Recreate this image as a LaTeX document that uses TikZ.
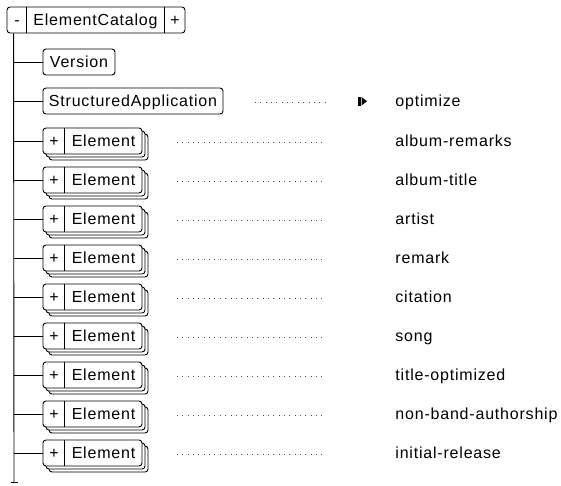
\documentclass[tikz,border=0pt]{standalone}
\usepackage{fontspec}
\newfontfamily\lblfamily{Liberation Sans}[LetterSpace=5]
\newcommand{\lblfont}{\lblfamily\fontsize{16pt}{18pt}\selectfont}
\usetikzlibrary{shadows}
\begin{document}
\begin{tikzpicture}[x=1pt,y=-1pt,line width=0.9pt,
  boxc/.style={draw, rounded corners=3pt, fill=white, inner sep=0pt,
    minimum height=26pt, font=\lblfont, text height=11.5pt, text depth=0pt},
  elembox/.style={boxc, minimum width=99pt,
    double copy shadow={shadow xshift=3pt, shadow yshift=-3pt}},
  btxt/.style={font=\lblfont, anchor=base, inner sep=0pt},
  lbl/.style={font=\lblfont, anchor=base west, inner sep=0pt},
  dots/.style={draw=black!70, line width=1pt, dash pattern=on 1pt off 4.35pt},
]
\useasboundingbox (0,0) rectangle (561,485);

% root
\node[boxc, minimum width=178pt] (ec) at (96,20) {};
\draw ([xshift=20pt]ec.north west) -- ([xshift=20pt]ec.south west);
\draw ([xshift=-21pt]ec.north east) -- ([xshift=-21pt]ec.south east);
\node[btxt] (ecminus) at (17,25.75) {-};
\node[btxt] (ecname) at (95.5,25.75) {ElementCatalog};
\node[btxt] (ecplus) at (175,25.75) {+};

% trunk
\coordinate (trbot) at (14,482);
\draw ([xshift=7pt]ec.south west) -- (trbot);
\draw ([xshift=-3pt]trbot) -- ([xshift=4pt]trbot);

% Version
\node[boxc, minimum width=72pt] (ver) at (79,62) {Version};
\coordinate (tkv) at (14,62);
\draw (tkv) -- (ver.west);

% StructuredApplication
\node[boxc, minimum width=180pt] (sa) at (133,101) {StructuredApplication};
\coordinate (tks) at (14,101);
\draw (tks) -- (sa.west);
\coordinate (sda) at (255,102);
\coordinate (sdb) at (325,102);
\draw[dots] (sda) -- (sdb);
\fill (358,97) rectangle (360.5,105.5);
\fill (361.5,97) -- (367,101.25) -- (361.5,105.5) -- cycle;
\node[lbl] (lbs) at (395,106.5) {optimize};

% Element rows
\foreach \i/\lab in {0/album-remarks,1/album-title,2/artist,3/remark,4/citation,
  5/song,6/title-optimized,7/non-band-authorship,8/initial-release}{
  \pgfmathsetmacro\yy{141+39*\i}
  \pgfmathsetmacro\yb{\yy+5.75}
  \pgfmathsetmacro\yl{\yy+5.5}
  \pgfmathsetmacro\yd{\yy+1}
  \node[elembox] (el\i) at (92.5,\yy) {};
  \draw ([xshift=22pt]el\i.north west) -- ([xshift=22pt]el\i.south west);
  \node[btxt] (elp\i) at (54,\yb) {+};
  \node[btxt] (eln\i) at (103.5,\yb) {Element};
  \coordinate (tk\i) at (14,\yy);
  \draw (tk\i) -- (el\i.west);
  \coordinate (da\i) at (177,\yd);
  \coordinate (db\i) at (325,\yd);
  \draw[dots] (da\i) -- (db\i);
  \node[lbl] (lb\i) at (395,\yl) {\lab};
}
\end{tikzpicture}
\end{document}
